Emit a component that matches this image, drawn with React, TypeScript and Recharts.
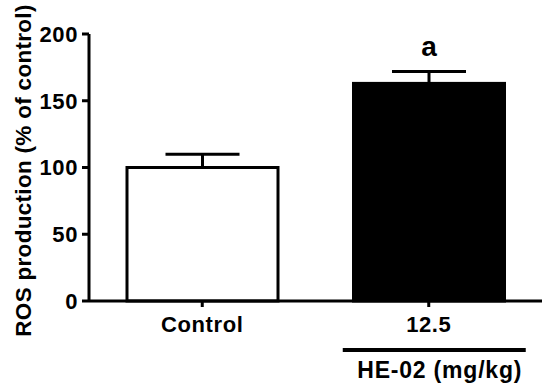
import React from 'react';
import { BarChart, Bar, XAxis, YAxis, Cell } from 'recharts';

document.body.style.margin = '0';

// values
const categories = ['Control', '12.5'];
const means = [100, 163];
const sems = [10, 9];
const marks = ['', 'a'];
const groupLabels = ['', 'HE-02 (mg/kg)'];
const yTicks = [0, 50, 100, 150, 200];

const barFills = ['#ffffff', '#000000'];
const font = '"Liberation Sans", Arial, Helvetica, sans-serif';

const data = categories.map((name, i) => ({
    name,
    mean: means[i],
    sem: sems[i],
    mark: marks[i],
    group: groupLabels[i],
}));

const BarWithError = (props: any) => {
    const { x, y, width, height, fill, payload } = props;
    const cx = x + width / 2;
    const pxPerUnit = payload.mean ? height / payload.mean : 0;
    const errTop = y - payload.sem * pxPerUnit;
    return (
        <g>
            <line x1={cx} y1={y} x2={cx} y2={errTop} stroke="#000" strokeWidth={3} />
            <line x1={cx - 37} y1={errTop} x2={cx + 37} y2={errTop} stroke="#000" strokeWidth={3} />
            <rect x={x} y={y} width={width} height={height} fill={fill} stroke="#000" strokeWidth={3} />
            {payload.mark ? (
                <text x={cx} y={errTop - 15} textAnchor="middle" fontFamily={font} fontWeight="bold" fontSize={28} fill="#000">
                    {payload.mark}
                </text>
            ) : null}
        </g>
    );
};

const XTick = (props: any) => {
    const { x, y, payload } = props;
    const group = groupLabels[payload.index];
    return (
        <g>
            <text x={x} y={y + 25} textAnchor="middle" fontFamily={font} fontWeight="bold" fontSize={22} letterSpacing={0.6} fill="#000">
                {payload.value}
            </text>
            {group ? (
                <g>
                    <line x1={x - 86} y1={y + 43} x2={x + 97} y2={y + 43} stroke="#000" strokeWidth={4} />
                    <text x={x + 11} y={y + 71} textAnchor="middle" fontFamily={font} fontWeight="bold" fontSize={23} letterSpacing={0.8} fill="#000">
                        {group}
                    </text>
                </g>
            ) : null}
        </g>
    );
};

const YLabel = (props: any) => {
    const { viewBox } = props;
    const cy = viewBox.y + viewBox.height / 2 + 3;
    return (
        <text
            x={23}
            y={cy}
            transform={`rotate(-90, 23, ${cy})`}
            textAnchor="middle"
            dominantBaseline="central"
            fontFamily={font}
            fontWeight="bold"
            fontSize={22.5}
            letterSpacing={0.3}
            fill="#000"
        >
            ROS production (% of control)
        </text>
    );
};

export default function App() {
    return (
        <div style={{ width: 550, height: 391, background: '#fff' }}>
            <BarChart width={550} height={391} data={data} margin={{ top: 34, right: 8, left: 0, bottom: 0 }}>
                <XAxis
                    dataKey="name"
                    height={90}
                    axisLine={{ stroke: '#000', strokeWidth: 3 }}
                    tickLine={{ stroke: '#000', strokeWidth: 3 }}
                    tickSize={6}
                    tickMargin={0}
                    tick={<XTick />}
                    interval={0}
                />
                <YAxis
                    width={89}
                    domain={[0, 200]}
                    ticks={yTicks}
                    axisLine={{ stroke: '#000', strokeWidth: 3 }}
                    tickLine={{ stroke: '#000', strokeWidth: 3 }}
                    tickSize={7}
                    tickMargin={4}
                    tick={{ fill: '#000', fontSize: 22, fontWeight: 'bold', fontFamily: font, letterSpacing: 0.6 }}
                    label={{ content: <YLabel /> }}
                />
                <Bar dataKey="mean" barSize={151} shape={<BarWithError />} isAnimationActive={false}>
                    {data.map((d, i) => (
                        <Cell key={d.name} fill={barFills[i]} />
                    ))}
                </Bar>
            </BarChart>
        </div>
    );
}
